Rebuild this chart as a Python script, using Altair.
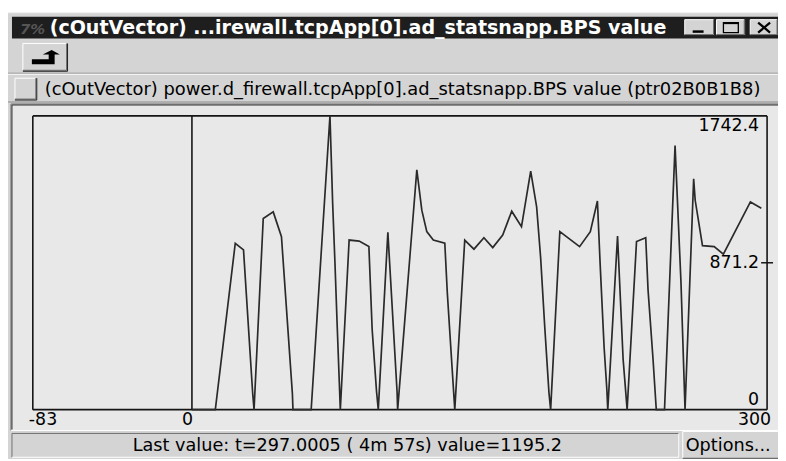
import altair as alt
import pandas as pd

# ---------------- data ----------------
time_s = [0, 12.2, 22.6, 26.9, 31.7, 32.4, 37.2, 42.4, 46.7, 52.4, 52.7, 62.2,
          71.7, 72.0, 73.4, 74.6, 75.7, 76.8, 77.4, 82.0, 87.2, 92.3, 94.0, 96.3,
          97.2, 102.2, 107.0, 107.3, 117.3, 119.9, 122.5, 125.9, 131.9, 133.2,
          135.4, 137.1, 142.3, 147.1, 152.3, 156.9, 162.1, 166.8, 171.9, 176.7,
          179.8, 181.9, 184.0, 186.2, 187.1, 191.9, 202.2, 207.8, 211.5, 212.9,
          215.0, 216.4, 216.9, 222.0, 224.9, 227.0, 231.9, 236.7, 237.9, 240.5,
          242.2, 246.5, 252.0, 255.1, 256.8, 257.2, 261.7, 262.5, 266.3, 272.4,
          277.2, 291.3, 297.0]
bps_value = [0, 0, 987, 948, 94, 0, 1134, 1173, 1026, 94, 0, 0,
             1690, 1742.4, 1224, 871, 518, 182, 0, 1006, 1000, 967, 477, 106,
             0, 1052, 106, 0, 1422, 1183, 1056, 1006, 987, 694,
             300, 0, 1006, 952, 1020, 961, 1036, 1177, 1085, 1415,
             1203, 899, 496, 104, 0, 1056, 967, 1056, 1238, 869,
             369, 124, 0, 1030, 300, 0, 997, 1020, 712, 300,
             0, 0, 1566, 751, 143, 0, 1370, 1242, 973, 967,
             922, 1232, 1195.2]

x_ticks = [-83, 0, 300]
x_tick_labels = ["-83", "0", "300"]
y_ticks = [1742.4, 871.2, 0]
y_tick_labels = ["1742.4", "871.2", "0"]

title_text = "(cOutVector) ...irewall.tcpApp[0].ad_statsnapp.BPS value"
info_text = "(cOutVector) power.d_firewall.tcpApp[0].ad_statsnapp.BPS value  (ptr02B0B1B8)"
status_text = "Last value: t=297.0005 ( 4m 57s)  value=1195.2"
options_text = "Options..."

# ---------------- layout helpers (page coordinates) ----------------
OX, OY = 8, 8
W, H = 776, 451
FONT = "DejaVu Sans"
WIN = "#d4d4d4"
PLOT_BG = "#e8e8e8"

one = pd.DataFrame({"k": [0]})


def rect(x1, y1, x2, y2, fill, stroke=None, sw=1.0):
    kw = {"fill": fill}
    if stroke:
        kw.update(stroke=stroke, strokeWidth=sw)
    else:
        kw.update(strokeWidth=0)
    return alt.Chart(one).mark_rect(**kw).encode(
        x=alt.value(x1 - OX), x2=alt.value(x2 - OX),
        y=alt.value(y1 - OY), y2=alt.value(y2 - OY))


def seg(x1, y1, x2, y2, color, sw=1.0):
    return alt.Chart(one).mark_rule(color=color, strokeWidth=sw).encode(
        x=alt.value(x1 - OX), x2=alt.value(x2 - OX),
        y=alt.value(y1 - OY), y2=alt.value(y2 - OY))


def bevel(x1, y1, x2, y2, raised=True):
    light, dark = ("#ffffff", "#707070") if raised else ("#707070", "#ffffff")
    out = [seg(x1, y1, x2, y1, light), seg(x1, y1, x1, y2, light),
           seg(x1, y2, x2, y2, dark), seg(x2, y1, x2, y2, dark)]
    if raised:
        out += [seg(x1, y2 + 1, x2 + 1, y2 + 1, "#202020"),
                seg(x2 + 1, y1, x2 + 1, y2 + 1, "#202020")]
    return out


def label(x, y, text, size, color="black", align="left", baseline="alphabetic",
          weight="normal", style="normal", font=FONT):
    return alt.Chart(one).mark_text(
        text=text, fontSize=size, color=color, align=align, baseline=baseline,
        fontWeight=weight, fontStyle=style, font=font).encode(
        x=alt.value(x - OX), y=alt.value(y - OY))


layers = []
# window body
layers.append(rect(6, 11, 786, 461, WIN))
layers += [seg(6, 11, 786, 11, "#f0f0f0"), seg(6, 11, 6, 461, "#f0f0f0")]
# title bar
layers.append(rect(12, 15, 786, 37, "#1e1e1e"))
layers.append(label(20, 32, "7%", 15, color="#555555", weight="bold", style="italic"))
layers.append(label(50, 32, title_text, 19.2, color="white", weight="bold"))
# title bar buttons
for (a, b) in [(690, 720), (722, 751), (756, 784)]:
    layers.append(rect(a, 18, b, 34, WIN))
    layers += bevel(a, 18, b - 1, 33)
layers.append(seg(698, 30, 709, 30, "black", 2.5))
layers.append(rect(729, 21, 744, 31, "none", stroke="black", sw=1.3))
layers.append(seg(729, 21.5, 744, 21.5, "black", 2))
layers.append(seg(764, 21, 776, 31, "black", 2.3))
layers.append(seg(764, 31, 776, 21, "black", 2.3))
# toolbar
layers.append(rect(23, 42, 68, 70, WIN))
layers += bevel(23, 42, 67, 69)
arrow_path = ("M -0.93 0.13 L 0.2 0.13 L 0.2 -0.2 L -0.2 -0.2 L 0.4 -0.5 "
              "L 0.95 -0.2 L 0.6 -0.2 L 0.6 0.47 L -0.93 0.47 Z")
layers.append(alt.Chart(one).mark_point(
    shape=arrow_path, size=900, filled=True, color="black", opacity=1, strokeWidth=0
).encode(x=alt.value(46 - OX), y=alt.value(56 - OY)))
layers += [seg(8, 72, 786, 72, "#8a8a8a"), seg(8, 73, 786, 73, "#ffffff")]
# info line
layers.append(rect(15, 77, 37, 99, WIN))
layers += bevel(15, 77, 36, 98)
layers.append(label(45, 94, info_text, 18))
layers += [seg(8, 101, 786, 101, "#8a8a8a")]
# plot panel
layers.append(rect(11, 103, 786, 432, PLOT_BG))
layers += [seg(11, 103, 786, 103, "#707070"), seg(11, 103, 11, 432, "#707070"),
           seg(12, 104, 786, 104, "#303030"), seg(12, 104, 12, 431, "#303030"),
           seg(11, 432, 786, 432, "#ffffff")]
# status bar
layers.append(rect(12, 435, 684, 459, WIN))
layers += bevel(12, 435, 684, 459, raised=False)
layers.append(label(350, 453, status_text, 17.8, align="center"))
layers.append(rect(688, 433, 786, 461, WIN))
layers += bevel(688, 433, 786, 460)
layers.append(label(691, 453, options_text, 17.8))

# ---------------- the plot itself (through scales) ----------------
xs = alt.Scale(domain=[-83, 300], range=[33 - OX, 773 - OX], nice=False, zero=False)
ys = alt.Scale(domain=[0, 1742.4], range=[411 - OY, 115 - OY], nice=False, zero=False)

df = pd.DataFrame({"t": time_s, "v": bps_value})


def X(v):
    return alt.X(datum=v, type="quantitative", scale=xs, axis=None)


def Y(v):
    return alt.Y(datum=v, type="quantitative", scale=ys, axis=None)


frame_color = "#151515"
frame = alt.Chart(one).mark_rule(color=frame_color, strokeWidth=1.6)
layers.append(frame.encode(x=X(x_ticks[0]), x2=alt.X2(datum=x_ticks[-1]), y=Y(y_ticks[0])))
layers.append(frame.encode(x=X(x_ticks[0]), x2=alt.X2(datum=x_ticks[-1]), y=Y(y_ticks[-1])))
for xv in x_ticks:
    layers.append(frame.encode(x=X(xv), y=Y(y_ticks[-1]), y2=alt.Y2(datum=y_ticks[0])))

layers.append(alt.Chart(one).mark_tick(orient="horizontal", size=12, thickness=1.5,
                                       color=frame_color, opacity=1).encode(
    x=X(x_ticks[-1]), y=Y(y_ticks[1])))

data_line = alt.Chart(df).mark_line(color="#2a2a2a", strokeWidth=1.7).encode(
    x=alt.X("t:Q", scale=xs, axis=None),
    y=alt.Y("v:Q", scale=ys, axis=None),
    order="t:Q")
layers.append(data_line)

# tick labels
x_align = ["left", "right", "right"]
x_dx = [-4, 1, 4]
for v, lab, al, dx in zip(x_ticks, x_tick_labels, x_align, x_dx):
    layers.append(alt.Chart(one).mark_text(
        text=lab, fontSize=17.5, font=FONT, align=al, baseline="top", dx=dx, dy=1,
        color="black").encode(x=X(v), y=Y(0)))

y_baseline = ["top", "middle", "bottom"]
y_dy = [1, 0, -1]
for v, lab, bl, dy in zip(y_ticks, y_tick_labels, y_baseline, y_dy):
    layers.append(alt.Chart(one).mark_text(
        text=lab, fontSize=17.5, font=FONT, align="right", baseline=bl, dx=-8, dy=dy,
        color="black").encode(x=X(x_ticks[-1]), y=Y(v)))

chart = alt.layer(*layers).properties(
    width=W, height=H, background="white", padding=0,
    autosize=alt.AutoSizeParams(type="none")
).configure_view(stroke=None)

chart.save("out.html", embed_options={"renderer": "svg", "actions": False})
